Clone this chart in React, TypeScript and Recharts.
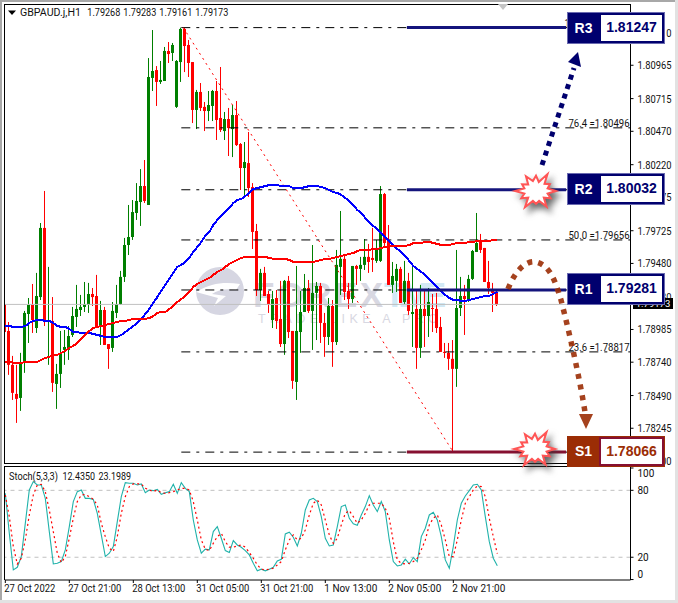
import React from 'react'
import { ComposedChart, Bar, Line, XAxis, YAxis, ReferenceLine } from 'recharts'

const opens = [
  1.79176, 1.78974, 1.78720, 1.78502, 1.78472, 1.78742, 1.79101, 1.79169, 1.78996, 1.79228,
  1.79746, 1.79041, 1.79049, 1.78577, 1.78652, 1.78832, 1.78832, 1.78944, 1.79079, 1.79131,
  1.79154, 1.79169, 1.79251, 1.79236, 1.79011, 1.79131, 1.78876, 1.78847, 1.79109, 1.79176,
  1.79379, 1.79618, 1.79678, 1.79858, 1.79940, 1.80060, 1.79918, 1.80870, 1.80929, 1.80840,
  1.80847, 1.81072, 1.81057, 1.80653, 1.80989, 1.81237, 1.81117, 1.80989, 1.80630, 1.80765,
  1.80653, 1.80622, 1.80660, 1.80772, 1.80570, 1.80472, 1.80562, 1.80487, 1.80592, 1.80375,
  1.80195, 1.80232, 1.80052, 1.79723, 1.79281, 1.79409, 1.79251, 1.79056, 1.79221, 1.79064,
  1.78876, 1.79349, 1.78974, 1.78592, 1.78966, 1.79116, 1.79296, 1.79124, 1.79259, 1.79311,
  1.79034, 1.78929, 1.79161, 1.78891, 1.79454, 1.79514, 1.79274, 1.79213, 1.79461, 1.79439,
  1.79469, 1.79529, 1.79521, 1.79499, 1.79499, 1.80000, 1.79656, 1.79319, 1.79349, 1.79439,
  1.79191, 1.79349, 1.79101, 1.79139, 1.78847, 1.79139, 1.79086, 1.79146, 1.79139, 1.79004,
  1.78817, 1.78810, 1.78765, 1.78690, 1.79146, 1.79236, 1.79213, 1.79364, 1.79566, 1.79656,
  1.79596, 1.79341, 1.79281, 1.79268,
]
const highs = [
  1.79206, 1.79041, 1.78787, 1.78720, 1.78810, 1.79124, 1.79221, 1.79326, 1.79409, 1.79783,
  1.80023, 1.79454, 1.79228, 1.78727, 1.78974, 1.78981, 1.79011, 1.79154, 1.79319, 1.79244,
  1.79341, 1.79334, 1.79296, 1.79394, 1.79199, 1.79154, 1.78876, 1.79191, 1.79319, 1.79424,
  1.79671, 1.79918, 1.79955, 1.80082, 1.80187, 1.80255, 1.81019, 1.81229, 1.80959, 1.80997,
  1.81102, 1.81139, 1.81132, 1.81004, 1.81247, 1.81244, 1.81154, 1.80989, 1.80780, 1.80832,
  1.80690, 1.80772, 1.80780, 1.80847, 1.80952, 1.80615, 1.80645, 1.80667, 1.80697, 1.80382,
  1.80390, 1.80465, 1.80082, 1.79776, 1.79439, 1.79454, 1.79274, 1.79274, 1.79281, 1.79349,
  1.79356, 1.79386, 1.78974, 1.79461, 1.79274, 1.79401, 1.79356, 1.79618, 1.79341, 1.79334,
  1.79109, 1.79221, 1.79206, 1.79581, 1.79873, 1.79551, 1.79334, 1.79461, 1.79469, 1.79529,
  1.79663, 1.79626, 1.79746, 1.79656, 1.80060, 1.80008, 1.79768, 1.79491, 1.79476, 1.79454,
  1.79499, 1.79409, 1.79454, 1.79281, 1.79319, 1.79281, 1.79296, 1.79251, 1.79259, 1.79079,
  1.78884, 1.78884, 1.78906, 1.79581, 1.79379, 1.79319, 1.79394, 1.79581, 1.79858, 1.79701,
  1.79596, 1.79499, 1.79334, 1.79283,
]
const lows = [
  1.78921, 1.78645, 1.78457, 1.78285, 1.78375, 1.78660, 1.78884, 1.78959, 1.78959, 1.79206,
  1.79011, 1.78720, 1.78517, 1.78390, 1.78547, 1.78720, 1.78757, 1.78929, 1.79004, 1.79086,
  1.79116, 1.79109, 1.79161, 1.78996, 1.78869, 1.78869, 1.78690, 1.78817, 1.79071, 1.79169,
  1.79341, 1.79543, 1.79656, 1.79806, 1.79761, 1.79933, 1.79918, 1.80772, 1.80660, 1.80825,
  1.80847, 1.80982, 1.80997, 1.80645, 1.80840, 1.80914, 1.80877, 1.80532, 1.80487, 1.80622,
  1.80472, 1.80547, 1.80547, 1.80405, 1.80465, 1.80405, 1.80285, 1.80277, 1.80360, 1.80030,
  1.79993, 1.79978, 1.79588, 1.79236, 1.79199, 1.79236, 1.79109, 1.78996, 1.78989, 1.78854,
  1.78795, 1.78921, 1.78540, 1.78457, 1.78810, 1.79116, 1.79109, 1.78832, 1.78906, 1.78884,
  1.78780, 1.78869, 1.78705, 1.78869, 1.79244, 1.79206, 1.79139, 1.79184, 1.79319, 1.79349,
  1.79431, 1.79409, 1.79416, 1.79484, 1.79491, 1.79611, 1.79319, 1.79259, 1.79266, 1.79184,
  1.79176, 1.79094, 1.78854, 1.78690, 1.78772, 1.78854, 1.78929, 1.78966, 1.78959, 1.78817,
  1.78772, 1.78682, 1.78066, 1.78555, 1.79086, 1.78944, 1.79191, 1.79356, 1.79566, 1.79558,
  1.79341, 1.79251, 1.79116, 1.79161,
]
const closes = [
  1.78966, 1.78720, 1.78510, 1.78465, 1.78735, 1.79109, 1.79169, 1.79056, 1.79236, 1.79746,
  1.79041, 1.79049, 1.78585, 1.78652, 1.78802, 1.78854, 1.78936, 1.79086, 1.79139, 1.79154,
  1.79176, 1.79251, 1.79228, 1.79011, 1.79131, 1.78869, 1.78839, 1.79124, 1.79176, 1.79379,
  1.79618, 1.79678, 1.79865, 1.79948, 1.80060, 1.79948, 1.80877, 1.80922, 1.80840, 1.80855,
  1.81072, 1.81049, 1.81117, 1.80997, 1.81237, 1.81109, 1.80982, 1.80630, 1.80765, 1.80645,
  1.80622, 1.80667, 1.80772, 1.80555, 1.80480, 1.80562, 1.80495, 1.80592, 1.80367, 1.80195,
  1.80240, 1.80045, 1.79716, 1.79281, 1.79409, 1.79236, 1.79176, 1.79213, 1.79049, 1.78876,
  1.79349, 1.78966, 1.78600, 1.78974, 1.79116, 1.79296, 1.79124, 1.79259, 1.79311, 1.79034,
  1.78929, 1.79161, 1.78891, 1.79469, 1.79514, 1.79266, 1.79213, 1.79461, 1.79439, 1.79469,
  1.79529, 1.79491, 1.79506, 1.79596, 1.80000, 1.79633, 1.79319, 1.79386, 1.79439, 1.79184,
  1.79349, 1.79124, 1.79116, 1.78847, 1.79139, 1.79086, 1.79191, 1.79139, 1.78996, 1.78817,
  1.78810, 1.78765, 1.78690, 1.79146, 1.79236, 1.79213, 1.79364, 1.79573, 1.79633, 1.79581,
  1.79341, 1.79296, 1.79259, 1.79173,
]
const blueMa = [
  1.79011, 1.79011, 1.79004, 1.79004, 1.79004, 1.79011, 1.79034, 1.79049, 1.79056, 1.79056,
  1.79049, 1.79049, 1.79034, 1.79011, 1.79004, 1.79004, 1.78989, 1.78966, 1.78966, 1.78959,
  1.78959, 1.78959, 1.78951, 1.78944, 1.78936, 1.78929, 1.78929, 1.78929, 1.78929, 1.78944,
  1.78966, 1.78989, 1.79011, 1.79034, 1.79064, 1.79101, 1.79139, 1.79184, 1.79228, 1.79274,
  1.79319, 1.79364, 1.79409, 1.79454, 1.79469, 1.79491, 1.79521, 1.79566, 1.79603, 1.79641,
  1.79686, 1.79716, 1.79768, 1.79806, 1.79835, 1.79865, 1.79895, 1.79933, 1.79955, 1.79963,
  1.79985, 1.80008, 1.80037, 1.80045, 1.80052, 1.80060, 1.80067, 1.80067, 1.80067, 1.80060,
  1.80060, 1.80060, 1.80045, 1.80045, 1.80045, 1.80052, 1.80060, 1.80060, 1.80060, 1.80052,
  1.80045, 1.80030, 1.80015, 1.80008, 1.79993, 1.79970, 1.79948, 1.79918, 1.79880, 1.79858,
  1.79821, 1.79791, 1.79761, 1.79738, 1.79708, 1.79678, 1.79649, 1.79618, 1.79588, 1.79566,
  1.79536, 1.79499, 1.79461, 1.79439, 1.79416, 1.79394, 1.79364, 1.79334, 1.79304, 1.79274,
  1.79244, 1.79221, 1.79206, 1.79206, 1.79199, 1.79199, 1.79206, 1.79213, 1.79221, 1.79228,
  1.79236, 1.79236, 1.79251, 1.79266,
]
const redMa = [
  1.78742, 1.78742, 1.78735, 1.78735, 1.78735, 1.78742, 1.78742, 1.78742, 1.78742, 1.78757,
  1.78772, 1.78780, 1.78795, 1.78795, 1.78810, 1.78825, 1.78847, 1.78862, 1.78884, 1.78914,
  1.78944, 1.78974, 1.78996, 1.79004, 1.79011, 1.79019, 1.79026, 1.79034, 1.79041, 1.79049,
  1.79049, 1.79056, 1.79064, 1.79064, 1.79064, 1.79064, 1.79071, 1.79086, 1.79109, 1.79116,
  1.79116, 1.79139, 1.79161, 1.79191, 1.79213, 1.79236, 1.79266, 1.79304, 1.79326, 1.79341,
  1.79356, 1.79371, 1.79394, 1.79416, 1.79431, 1.79454, 1.79476, 1.79491, 1.79506, 1.79521,
  1.79529, 1.79529, 1.79529, 1.79529, 1.79529, 1.79529, 1.79521, 1.79514, 1.79514, 1.79514,
  1.79514, 1.79506, 1.79491, 1.79491, 1.79491, 1.79491, 1.79491, 1.79491, 1.79499, 1.79506,
  1.79514, 1.79514, 1.79521, 1.79529, 1.79536, 1.79543, 1.79551, 1.79558, 1.79573, 1.79581,
  1.79581, 1.79581, 1.79588, 1.79588, 1.79596, 1.79603, 1.79611, 1.79611, 1.79611, 1.79611,
  1.79611, 1.79618, 1.79633, 1.79633, 1.79633, 1.79641, 1.79641, 1.79633, 1.79626, 1.79618,
  1.79618, 1.79618, 1.79626, 1.79633, 1.79633, 1.79633, 1.79641, 1.79641, 1.79649, 1.79649,
  1.79649, 1.79649, 1.79656, 1.79656,
]
const stochK = [
  77.3, 41.5, 8.7, 11, 20.6, 50.4, 80.3, 87.8, 84.8, 84.8,
  72.8, 43, 14, 14.6, 16.1, 26.6, 47.5, 69.9, 78.8, 80.3,
  72.8, 72.8, 71.9, 59.4, 40, 20.6, 23.6, 29.6, 51.9, 74.3,
  86.9, 86.3, 86.3, 84.8, 85.7, 77.9, 80.3, 79.7, 80.9, 76.4,
  77.9, 78.8, 85.4, 77.3, 86.9, 81.8, 78.8, 53.4, 35.5, 23.6,
  27.2, 26.6, 43, 47.5, 37, 26, 24.2, 34.9, 31, 29,
  26, 22.1, 14.6, 7.8, 9.3, 7.8, 9.3, 11, 16.7, 18.2,
  40.9, 42.4, 37.9, 30.1, 41.5, 62.4, 71.3, 72.8, 69.9, 56.4,
  37, 30.1, 31, 47.5, 65.4, 66.9, 54.9, 49.9, 48.7, 57.9,
  65.4, 75.2, 66.9, 60.9, 69.9, 60.9, 35.5, 16.1, 12.2, 13.1,
  18.2, 14, 19.7, 16.1, 38.5, 46, 57.9, 60.3, 53.4, 38.5,
  17.6, 10.1, 29.6, 53.4, 68.4, 74.9, 79.7, 84.8, 85.4, 80.3,
  56.4, 34, 19.1, 12.435,
]
const stochD = [
  75.8, 56.4, 29.6, 14, 19.1, 35.5, 57.9, 75.8, 84.8, 85.4,
  78.8, 62.4, 43, 23.6, 15.2, 20.6, 37, 54.9, 69.9, 75.8,
  76.4, 74.3, 71.9, 66.9, 50.4, 38.5, 28.1, 25.1, 38.5, 59.4,
  74.3, 83.3, 85.7, 85.7, 85.7, 81.8, 80.3, 78.8, 80.3, 77.9,
  77.3, 77.9, 78.8, 80.3, 81.8, 81.8, 80.3, 69.9, 53.4, 35.5,
  27.2, 26, 32.5, 38.5, 41.5, 34, 29, 29, 30.1, 31,
  29, 24.2, 19.1, 13.1, 9.3, 8.7, 9.3, 10.1, 13.1, 16.1,
  26.6, 35.5, 40, 35.5, 37, 44.5, 57.9, 68.4, 71.3, 66.9,
  53.4, 40, 32.5, 37, 49, 59.4, 61.8, 56.4, 50.4, 53.4,
  59.4, 66.9, 68.4, 68.4, 68.4, 63.9, 54.9, 34, 17.6, 14.6,
  14, 14.6, 16.1, 19.1, 26.6, 35.5, 49, 54.9, 57.9, 49,
  35.5, 20.6, 20.6, 35.5, 53.4, 68.4, 74.3, 80.3, 83.9, 83.3,
  74.3, 54.9, 38.5, 23.1989,
]

const priceTicks = [1.8121, 1.80965, 1.80715, 1.8047, 1.8022, 1.79975, 1.79725, 1.7948, 1.7923, 1.78985, 1.7874, 1.7849, 1.78245, 1.78]
const stochTicks = [0, 20, 80, 100]
const timeTicks = [0, 16, 32, 48, 64, 80, 96, 112]
const timeLabels = ['27 Oct 2022', '27 Oct 21:00', '28 Oct 13:00', '31 Oct 05:00', '31 Oct 21:00', '1 Nov 13:00', '2 Nov 05:00', '2 Nov 21:00']

const fibLevels = [
  { pct: '100.0', price: 1.81247 },
  { pct: '76.4', price: 1.80496 },
  { pct: '61.8', price: 1.80032 },
  { pct: '50.0', price: 1.79656 },
  { pct: '38.2', price: 1.79281 },
  { pct: '23.6', price: 1.78817 },
  { pct: '0.0', price: 1.78066 },
]
const pivots = [
  { name: 'R3', price: 1.81247, top: 12, h: 32 },
  { name: 'R2', price: 1.80032, top: 173, h: 32 },
  { name: 'R1', price: 1.79281, top: 273, h: 32 },
  { name: 'S1', price: 1.78066, top: 436, h: 31 },
]
const lastPrice = 1.79173
const quote = ['1.79268', '1.79283', '1.79161', '1.79173']
const stochReadout = ['12.4350', '23.1989']

const priceData = opens.map((open, i) => ({
  i,
  open,
  high: highs[i],
  low: lows[i],
  close: closes[i],
  range: [lows[i], highs[i]],
  blue: blueMa[i],
  red: redMa[i],
}))
const stochData = stochK.map((k, i) => ({ i, k, d: stochD[i] }))

const xDomain: [number, number] = [-0.075, 156.3]
const font = 'Roboto, "Noto Sans", sans-serif'
const navy = '#00006e'
const brown = '#9b2d05'
const maroon = '#861031'

function Candle(props: any) {
  const { x, y, width, height, payload } = props
  const { open, close, high, low } = payload
  const colour = close >= open ? '#007f00' : '#ff0000'
  const ppu = height / (high - low)
  const top = y + (high - Math.max(open, close)) * ppu
  const bodyH = Math.max(Math.abs(open - close) * ppu, 1)
  const cx = Math.round(x + width / 2 - 0.5)
  return (
    <g>
      <rect x={cx} y={y} width={1} height={height} fill={colour} />
      <rect x={cx - 1} y={top} width={3} height={bodyH} fill={colour} />
    </g>
  )
}

// squeezed text, the terminal font is narrower than anything installed here
function Squeezed({ x, y, w, children, anchor }: any) {
  return (
    <text x={x} y={y} fontSize={10.5} fontFamily={font} fill="#111" textAnchor={anchor} textLength={w} lengthAdjust="spacingAndGlyphs">
      {children}
    </text>
  )
}

function PriceTick(props: any) {
  const { x, y, payload } = props
  return (
    <Squeezed x={x + 2} y={y + 4} w={34}>
      {payload.value.toFixed(5)}
    </Squeezed>
  )
}

function TimeTick(props: any) {
  const { x, y, payload } = props
  return (
    <Squeezed x={x - 1} y={y + 7} w={timeTicks.indexOf(payload.value) === 0 ? 51 : 53}>
      {timeLabels[timeTicks.indexOf(payload.value)]}
    </Squeezed>
  )
}

function StochTick(props: any) {
  const { x, y, payload } = props
  const shift = payload.value === 100 ? 5 : payload.value === 0 ? -6 : 0
  return (
    <text x={x + 2} y={y + shift + 4} fontSize={10} fontFamily={font} fill="#111">
      {payload.value}
    </text>
  )
}

function FibLabel(props: any) {
  const { viewBox, text } = props
  const w = text.length > 13 ? 65 : text.length > 12 ? 61 : 55
  return (
    <Squeezed x={viewBox.x + viewBox.width - 1 - w} y={viewBox.y - 1} w={w}>
      {text}
    </Squeezed>
  )
}

function Star({ cx, cy }: { cx: number; cy: number }) {
  const radii = [20, 12, 17, 11, 21, 12, 15, 12, 22, 11, 17, 12, 21, 12, 16, 11, 20, 12, 18, 11, 23, 12, 16, 12]
  const pts = radii
    .map((r, k) => {
      const a = (k / radii.length) * Math.PI * 2
      return `${(cx + r * Math.cos(a)).toFixed(1)},${(cy + r * 0.85 * Math.sin(a)).toFixed(1)}`
    })
    .join(' ')
  return (
    <polygon
      points={pts}
      fill="#fff"
      stroke="#ff5555"
      strokeWidth={2}
      style={{ filter: 'drop-shadow(4px 5px 3px rgba(60,60,60,0.75))' }}
    />
  )
}

function LevelBox({ name, price, top, h }: { name: string; price: number; top: number; h: number }) {
  const support = name[0] === 'S'
  const fill = support ? brown : navy
  const edge = support ? maroon : navy
  return (
    <div
      style={{
        position: 'absolute',
        left: 567,
        top,
        width: 98,
        height: h,
        display: 'flex',
        boxSizing: 'border-box',
        border: `1px solid ${support ? brown : '#6a6ab0'}`,
        fontFamily: '"Liberation Sans", Arial, sans-serif',
        fontWeight: 700,
        fontSize: 14,
      }}
    >
      <div style={{ width: 31, background: fill, color: '#fff', textAlign: 'center', lineHeight: `${h - 2}px` }}>{name}</div>
      <div
        style={{
          flex: 1,
          background: '#fff',
          color: support ? brown : navy,
          border: `2.5px solid ${edge}`,
          boxSizing: 'border-box',
          textAlign: 'center',
          lineHeight: `${h - 7}px`,
        }}
      >
        {price.toFixed(5)}
      </div>
    </div>
  )
}

export default function App() {
  return (
    <div style={{ position: 'absolute', left: 0, top: 0, width: 678, height: 603, background: '#fff', overflow: 'hidden' }}>
      {/* window edge */}
      <div style={{ position: 'absolute', left: 0, top: 0, width: 2, height: 603, background: '#a8a8a8' }} />
      <div style={{ position: 'absolute', left: 0, top: 0, width: 678, height: 2, background: '#a8a8a8' }} />
      <div style={{ position: 'absolute', left: 0, top: 600, width: 678, height: 3, background: '#e2e2e2' }} />
      <div style={{ position: 'absolute', left: 675, top: 0, width: 3, height: 603, background: '#e2e2e2' }} />

      {/* broker watermark, sits under the candles */}
      <svg width={678} height={603} style={{ position: 'absolute', left: 0, top: 0 }}>
        <circle cx={220} cy={291} r={24} fill="#d6d6e2" />
        <path d="M196 292 C212 282 226 282 240 284 L236 290 C226 288 218 290 212 294 L226 296 L214 306 L218 298 Z" fill="#fff" />
        <text x={253} y={307} fontFamily='"Liberation Sans", sans-serif' fontWeight={700} fontSize={35} fill="#d8d8e2" textLength={130}>
          FOREX
        </text>
        <text x={384} y={307} fontFamily='"Liberation Sans", sans-serif' fontWeight={700} fontSize={35} fill="#d2e9f5" textLength={62}>
          TIME
        </text>
        <text x={258} y={323} fontFamily='"Liberation Sans", sans-serif' fontSize={12.5} fill="#d8d8e2" textLength={180}>
          TRADE LIKE A PRO
        </text>
      </svg>

      <div style={{ position: 'absolute', left: 0, top: 0 }}>
        <ComposedChart width={678} height={470} data={priceData} margin={{ top: 4, right: 0, bottom: 6, left: 5 }}>
          <XAxis type="number" dataKey="i" domain={xDomain} hide allowDataOverflow />
          <YAxis
            orientation="right"
            width={47.5}
            domain={[1.77977, 1.81424]}
            allowDataOverflow
            ticks={priceTicks}
            interval={0}
            tick={<PriceTick />}
            tickSize={3}
            axisLine={{ stroke: '#000' }}
            tickLine={{ stroke: '#000' }}
          />
          <ReferenceLine y={lastPrice} stroke="#c0c0c0" strokeWidth={1} />
          {fibLevels.map((f) => (
            <ReferenceLine
              key={f.pct}
              segment={[{ x: 44, y: f.price }, { x: 156.3, y: f.price }]}
              stroke="#000"
              strokeWidth={1}
              strokeDasharray="9 6 3 6"
              label={<FibLabel text={`${f.pct} =${f.price.toFixed(5)}`} />}
            />
          ))}
          <ReferenceLine
            segment={[{ x: 44.5, y: 1.81247 }, { x: 112, y: 1.78066 }]}
            stroke="#ff0000"
            strokeWidth={1}
            strokeDasharray="2 4"
          />
          <Bar dataKey="range" barSize={3} shape={<Candle />} isAnimationActive={false} />
          <Line type="linear" dataKey="blue" stroke="#0000ff" strokeWidth={2} dot={false} shapeRendering="crispEdges" isAnimationActive={false} />
          <Line type="linear" dataKey="red" stroke="#ff0000" strokeWidth={2} dot={false} shapeRendering="crispEdges" isAnimationActive={false} />
          {pivots.map((p) => (
            <ReferenceLine
              key={p.name}
              segment={[{ x: 100.4, y: p.price }, { x: 140.2, y: p.price }]}
              stroke={p.name === 'S1' ? maroon : '#14147c'}
              strokeWidth={3}
            />
          ))}
        </ComposedChart>
      </div>

      <div style={{ position: 'absolute', left: 0, top: 466 }}>
        <ComposedChart width={678} height={137} data={stochData} margin={{ top: 0, right: 0, bottom: 0, left: 5 }}>
          <XAxis
            type="number"
            dataKey="i"
            domain={xDomain}
            allowDataOverflow
            ticks={timeTicks}
            interval={0}
            height={23}
            tick={<TimeTick />}
            tickSize={3}
            axisLine={{ stroke: '#000' }}
            tickLine={{ stroke: '#000' }}
          />
          <YAxis
            orientation="right"
            width={47.5}
            domain={[-0.4, 101.8]}
            allowDataOverflow
            ticks={stochTicks}
            interval={0}
            tick={<StochTick />}
            tickSize={3}
            axisLine={{ stroke: '#000' }}
            tickLine={{ stroke: '#000' }}
          />
          <ReferenceLine y={80} stroke="#c0c0c0" strokeDasharray="4 4" />
          <ReferenceLine y={20} stroke="#c0c0c0" strokeDasharray="4 4" />
          <Line type="linear" dataKey="k" stroke="#20b2aa" strokeWidth={1.1} dot={false} isAnimationActive={false} />
          <Line type="linear" dataKey="d" stroke="#ff0000" strokeWidth={1.2} strokeDasharray="2 3" dot={false} isAnimationActive={false} />
        </ComposedChart>
      </div>

      {/* window frames */}
      <div style={{ position: 'absolute', left: 4, top: 4, width: 626, height: 460, boxSizing: 'border-box', borderLeft: '1.5px solid #000', borderTop: '1.5px solid #000', borderBottom: '1.5px solid #000' }} />
      <div style={{ position: 'absolute', left: 4, top: 466, width: 626, height: 114, boxSizing: 'border-box', borderLeft: '1.5px solid #000', borderTop: '1.5px solid #000' }} />

      {/* chart captions */}
      <svg width={678} height={603} style={{ position: 'absolute', left: 0, top: 0 }}>
        <path d="M8 10.5 L16 10.5 L12 15 Z" fill="#000" />
        <Squeezed x={20} y={16} w={61}>GBPAUD.j,H1</Squeezed>
        {quote.map((q, k) => (
          <Squeezed key={k} x={87.3 + k * 36} y={16} w={33}>{q}</Squeezed>
        ))}
        <Squeezed x={9} y={479.5} w={49}>Stoch(5,3,3)</Squeezed>
        {stochReadout.map((q, k) => (
          <Squeezed key={k} x={62.5 + k * 36} y={479.5} w={32.5}>{q}</Squeezed>
        ))}
      </svg>
      <div style={{ position: 'absolute', left: 633, top: 298, width: 40, height: 11, background: '#000', color: '#fff', fontFamily: font, fontSize: 9.5, lineHeight: '11px', textAlign: 'center' }}>
        {lastPrice.toFixed(5)}
      </div>

      {/* drawn call-outs */}
      <svg width={678} height={603} style={{ position: 'absolute', left: 0, top: 0 }}>
        <path d="M498 4 L508 4 L503 10 Z" fill="#c4c4c4" />
        <path d="M542 165 L574 68" stroke={navy} strokeWidth={5} strokeDasharray="5 5" fill="none" />
        <path d="M578 52 L568 62 L581 67 Z" fill={navy} />
        <path
          d="M508 289 C516 268 528 260 536 262 C552 266 556 285 561 300 C570 335 580 380 585 412"
          stroke={brown}
          strokeWidth={5.5}
          strokeDasharray="5 6"
          fill="none"
          opacity={0.9}
        />
        <path d="M586 429 L579 414 L593 414 Z" fill={brown} opacity={0.9} />
        <Star cx={536} cy={191} />
        <Star cx={535} cy={449} />
      </svg>

      {pivots.map((p) => (
        <LevelBox key={p.name} name={p.name} price={p.price} top={p.top} h={p.h} />
      ))}
    </div>
  )
}
